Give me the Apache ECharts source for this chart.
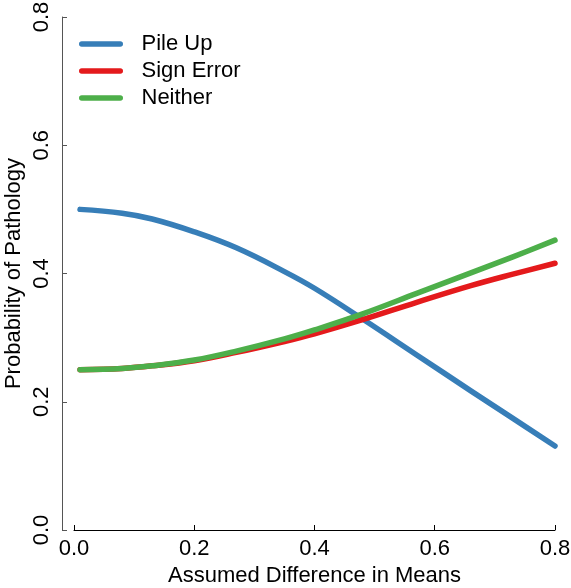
<!DOCTYPE html>
<html>
<head>
<meta charset="utf-8">
<script src="https://cdn.jsdelivr.net/npm/echarts@6/dist/echarts.min.js"></script>
<style>
  html, body { margin: 0; padding: 0; background: #fff; }
  #chart { width: 571px; height: 588px; }
</style>
</head>
<body>
<div id="chart"></div>
<script>
// values
const diffs = [0.01, 0.08, 0.13, 0.20, 0.27, 0.35, 0.40, 0.48, 0.57, 0.66, 0.73, 0.80];
const pileUp = [0.500, 0.494, 0.485, 0.465, 0.440, 0.403, 0.377, 0.329, 0.273, 0.217, 0.174, 0.131];
const signError = [0.250, 0.252, 0.256, 0.264, 0.277, 0.294, 0.306, 0.328, 0.355, 0.381, 0.399, 0.416];
const neither = [0.250, 0.252, 0.256, 0.265, 0.279, 0.298, 0.312, 0.337, 0.369, 0.401, 0.426, 0.452];
const xTicks = [0, 0.2, 0.4, 0.6, 0.8];
const yTicks = [0, 0.2, 0.4, 0.6, 0.8];

const font = 'Liberation Sans, Arial, Helvetica, sans-serif';
const capsule = 'path://M3,0 H45 A3,3 0 0 1 45,6 H3 A3,3 0 0 1 3,0 Z';

function pairs(ys) {
  return diffs.map((x, i) => [x, ys[i]]);
}

function line(name, ys, color) {
  return {
    name: name,
    type: 'line',
    xAxisIndex: 0,
    yAxisIndex: 0,
    data: pairs(ys),
    smooth: 0.4,
    symbol: 'none',
    lineStyle: { color: color, width: 5.5, cap: 'round', join: 'round' },
    itemStyle: { color: color }
  };
}

const chart = echarts.init(document.getElementById('chart'));
chart.setOption({
  animation: false,
  backgroundColor: '#fff',
  textStyle: { fontFamily: font },
  // main plot grid, plus a 1px wide grid that carries the detached y axis (R style)
  grid: [
    { left: 74, right: 16, top: 17, bottom: 58, outerBoundsMode: 'none', containLabel: false },
    { left: 62, right: 508, top: 17, bottom: 58, outerBoundsMode: 'none', containLabel: false }
  ],
  legend: {
    orient: 'vertical',
    left: 74,
    top: 28,
    itemWidth: 45,
    itemHeight: 5.5,
    itemGap: 5,
    selectedMode: false,
    icon: capsule,
    textStyle: { fontSize: 22, color: '#000', fontFamily: font, padding: [0, 0, 0, 13], lineHeight: 22 },
    data: ['Pile Up', 'Sign Error', 'Neither']
  },
  xAxis: [{
    gridIndex: 0,
    type: 'value',
    min: 0, max: 0.8, interval: 0.2,
    name: 'Assumed Difference in Means',
    nameLocation: 'middle',
    nameGap: 33,
    nameTextStyle: { fontSize: 22, color: '#000', fontFamily: font },
    axisLine: { onZero: false, lineStyle: { color: '#000', width: 1 } },
    axisTick: { inside: true, length: 5, lineStyle: { color: '#000' } },
    axisLabel: {
      fontSize: 22, color: '#000', margin: 8,
      formatter: v => xTicks.includes(+v.toFixed(1)) ? v.toFixed(1) : ''
    },
    splitLine: { show: false }
  }, {
    gridIndex: 1,
    type: 'value',
    min: 0, max: 1,
    show: false
  }],
  yAxis: [{
    gridIndex: 0,
    type: 'value',
    min: 0, max: 0.8,
    show: false
  }, {
    gridIndex: 1,
    type: 'value',
    min: 0, max: 0.8, interval: 0.2,
    name: 'Probability of Pathology',
    nameLocation: 'middle',
    nameGap: 37,
    nameTextStyle: { fontSize: 22, color: '#000', fontFamily: font },
    axisLine: { show: true, onZero: false, lineStyle: { color: '#555', width: 1 } },
    axisTick: { show: true, inside: true, length: 5, lineStyle: { color: '#555' } },
    axisLabel: {
      fontSize: 22, color: '#000', margin: 9, rotate: 90,
      formatter: v => yTicks.includes(+v.toFixed(1)) ? v.toFixed(1) : ''
    },
    splitLine: { show: false }
  }],
  series: [
    line('Pile Up', pileUp, '#377EB8'),
    line('Sign Error', signError, '#E41A1C'),
    line('Neither', neither, '#4DAF4A')
  ]
});
</script>
</body>
</html>
